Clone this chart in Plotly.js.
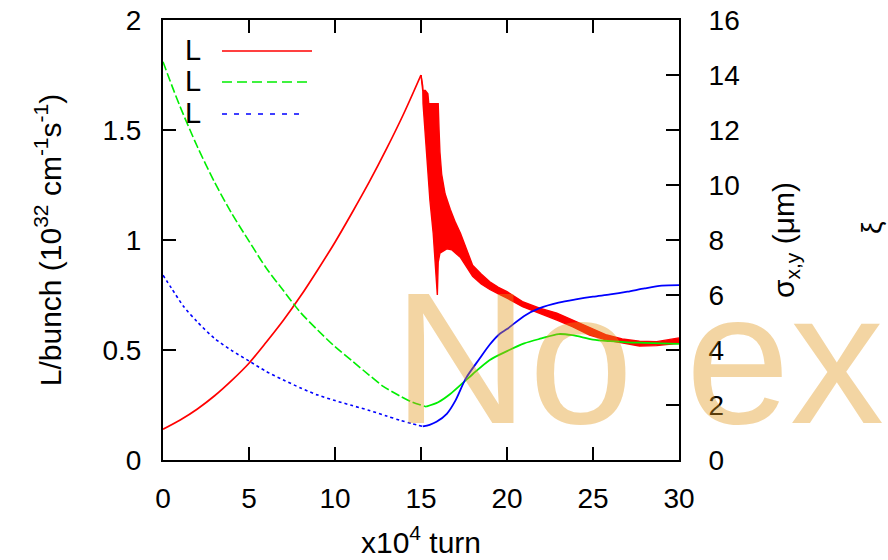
<!DOCTYPE html>
<html>
<head>
<meta charset="utf-8">
<script src="https://cdn.plot.ly/plotly-3.0.1.min.js"></script>
<style>
  html, body { margin: 0; padding: 0; background: #fff; }
  #chart { width: 888px; height: 560px; }
</style>
</head>
<body>
<div id="chart"></div>
<script>
// ---- Data ----
// x in units of 10^4 turns
const riseTurns = [0, 1, 2, 3, 4, 5, 6, 7, 8, 9, 10, 11, 12, 13, 14, 15];
const riseLum   = [0.14, 0.182, 0.232, 0.292, 0.362, 0.44, 0.535, 0.635, 0.745, 0.865, 0.99, 1.125, 1.265, 1.415, 1.575, 1.75];

// upper / lower envelope of the oscillating luminosity after the collapse
const upperTurns = [15, 15.1, 15.25, 15.4, 15.45, 16.0, 16.05, 16.1, 16.2, 16.4, 16.7, 17.0, 17.3, 17.6, 18.0, 18.5, 19.0, 19.5, 20.0, 20.9, 21.9, 22.9, 23.8, 24.8, 25.8, 26.7, 27.7, 28.7, 29.9, 30];
const upperLum   = [1.75, 1.68, 1.68, 1.665, 1.62, 1.62, 1.50, 1.40, 1.30, 1.21, 1.14, 1.08, 1.03, 0.97, 0.885, 0.845, 0.81, 0.785, 0.765, 0.72, 0.69, 0.668, 0.636, 0.60, 0.568, 0.55, 0.54, 0.538, 0.555, 0.555];
const lowerTurns = [15, 15.1, 15.12, 15.22, 15.32, 15.52, 15.71, 15.9, 15.95, 16.0, 16.1, 16.5, 16.8, 17.3, 17.6, 18.0, 18.5, 19.0, 19.5, 20.0, 20.9, 21.9, 22.9, 23.8, 24.8, 25.8, 26.7, 27.7, 28.7, 29.9, 30];
const lowerLum   = [1.75, 1.70, 1.62, 1.51, 1.36, 1.18, 1.03, 0.80, 0.75, 0.90, 0.94, 0.96, 0.955, 0.92, 0.885, 0.835, 0.80, 0.775, 0.755, 0.736, 0.697, 0.668, 0.636, 0.606, 0.568, 0.545, 0.532, 0.518, 0.52, 0.527, 0.53];

// beam sizes in micrometres (right axis)
const greenTurns = [0, 0.5, 1, 2, 3, 4, 5, 6, 7, 8, 9, 10, 11, 12, 12.8, 13.8, 14.5, 15.3, 16, 16.7, 17.5, 18, 19, 20, 21, 22, 23, 23.8, 25, 26, 27, 28, 29, 30];
const greenSigma = [14.48, 13.64, 12.84, 11.39, 10.1, 8.96, 7.96, 6.98, 6.16, 5.36, 4.72, 4.12, 3.6, 3.08, 2.68, 2.32, 2.1, 1.94, 2.1, 2.4, 2.84, 3.12, 3.64, 3.96, 4.24, 4.42, 4.58, 4.54, 4.38, 4.32, 4.28, 4.26, 4.24, 4.22];

const blueTurns = [0, 0.5, 1.2, 2, 3, 4, 5, 6, 7, 8, 9, 10, 11, 12, 13, 13.8, 14.5, 15.1, 15.5, 15.9, 16.5, 17, 17.6, 18.4, 19, 19.6, 20, 21, 21.9, 23, 24, 25, 26, 27, 28, 29, 30];
const blueSigma = [6.72, 6.24, 5.58, 5.02, 4.42, 3.98, 3.6, 3.22, 2.91, 2.62, 2.36, 2.16, 1.98, 1.8, 1.6, 1.44, 1.32, 1.22, 1.28, 1.39, 1.68, 2.16, 2.96, 3.68, 4.2, 4.6, 4.76, 5.24, 5.52, 5.72, 5.84, 5.94, 6.02, 6.12, 6.24, 6.34, 6.36];

const seriesNames = ["L", "L", "L"];
const xTicks  = [0, 5, 10, 15, 20, 25, 30];
const yTicks  = [0, 0.5, 1, 1.5, 2];
const y2Ticks = [0, 2, 4, 6, 8, 10, 12, 14, 16];
const watermarkText = "No ex";

// ---- Styles ----
const RED = "#ff0000", GREEN = "#00ee00", BLUE = "#0000ff";
const FONT = "Liberation Sans, Arial, Helvetica, sans-serif";
const greenDash = "9px,3px";
const blueDash = "3px,3px";

function splitAt(xs, ys, xSplit) {
  const a = {x: [], y: []}, b = {x: [], y: []};
  xs.forEach((v, i) => {
    if (v <= xSplit) { a.x.push(v); a.y.push(ys[i]); }
    if (v >= xSplit) { b.x.push(v); b.y.push(ys[i]); }
  });
  return [a, b];
}

const [g1, g2] = splitAt(greenTurns, greenSigma, 15.3);
const [b1, b2] = splitAt(blueTurns, blueSigma, 15.1);

const traces = [
  // red: smooth rise up to the collapse
  {x: riseTurns, y: riseLum, yaxis: "y", mode: "lines", name: seriesNames[0],
   line: {color: RED, width: 1.7, shape: "spline", smoothing: 0.8}, showlegend: false},
  // red: oscillating band (upper envelope, then lower envelope filled to it)
  {x: upperTurns, y: upperLum, yaxis: "y", mode: "lines", name: seriesNames[0],
   line: {color: RED, width: 1.4}, showlegend: false},
  {x: lowerTurns, y: lowerLum, yaxis: "y", mode: "lines", name: seriesNames[0],
   line: {color: RED, width: 1.4}, fill: "tonexty", fillcolor: RED, showlegend: false},
  // green
  {x: g1.x, y: g1.y, yaxis: "y2", mode: "lines", name: seriesNames[1],
   line: {color: GREEN, width: 1.6, dash: greenDash, shape: "spline", smoothing: 0.8}, showlegend: false},
  {x: g2.x, y: g2.y, yaxis: "y2", mode: "lines", name: seriesNames[1],
   line: {color: GREEN, width: 1.8, shape: "spline", smoothing: 0.8}, showlegend: false},
  // blue
  {x: b1.x, y: b1.y, yaxis: "y2", mode: "lines", name: seriesNames[2],
   line: {color: BLUE, width: 1.6, dash: blueDash, shape: "spline", smoothing: 0.8}, showlegend: false},
  {x: b2.x, y: b2.y, yaxis: "y2", mode: "lines", name: seriesNames[2],
   line: {color: BLUE, width: 1.8, shape: "spline", smoothing: 0.8}, showlegend: false}
];

// plot area in pixels: x 163..679, y 20..460
const L = 163, R = 679, T = 20, B = 460;
const px = v => (v - L) / (R - L);
const py = v => (B - v) / (B - T);

const legendRows = [51, 82, 114];
const legendColors = [RED, GREEN, BLUE];
const legendDashes = ["solid", "10px,5px", "5px,7px"];
const legendEnds = [312, 312, 306];

const annotations = legendRows.map((yy, i) => ({
  xref: "paper", yref: "paper", x: px(203), y: py(yy - 1), xanchor: "right", yanchor: "middle",
  text: seriesNames[i], showarrow: false, font: {family: FONT, size: 29, color: "#000"}
}));
const shapes = legendRows.map((yy, i) => ({
  type: "line", xref: "paper", yref: "paper", x0: px(222), x1: px(legendEnds[i]), y0: py(yy), y1: py(yy),
  line: {color: legendColors[i], width: 1.6, dash: legendDashes[i]}
}));

// third axis label (xi)
annotations.push({
  xref: "paper", yref: "paper", x: px(871), y: py(228), xanchor: "center", yanchor: "middle",
  text: "ξ", textangle: -90, showarrow: false, font: {family: FONT, size: 28, color: "#000"}
});
// watermark
annotations.push({
  xref: "paper", yref: "paper", x: px(391), y: py(358), xanchor: "left", yanchor: "middle",
  text: watermarkText, showarrow: false,
  font: {family: FONT, size: 188, color: "rgba(225,150,25,0.4)"}
});

const axisCommon = {
  showgrid: false, zeroline: false, showline: true, linecolor: "#000", linewidth: 2,
  ticks: "inside", ticklen: 13, tickwidth: 2, tickcolor: "#000",
  tickfont: {family: FONT, size: 28, color: "#000"}
};

const layout = {
  width: 888, height: 560,
  margin: {l: L, r: 888 - R, t: T, b: 560 - B},
  paper_bgcolor: "#fff", plot_bgcolor: "#fff",
  showlegend: false,
  xaxis: Object.assign({}, axisCommon, {
    range: [0, 30], tickvals: xTicks, mirror: "ticks", ticklabelstandoff: 12,
    title: {text: "x10<sup>4</sup> turn", font: {family: FONT, size: 30, color: "#000"}, standoff: 19}
  }),
  yaxis: Object.assign({}, axisCommon, {
    range: [0, 2], tickvals: yTicks, ticklabelstandoff: 14,
    title: {text: "L/bunch (10<sup>32</sup> cm<sup>-1</sup>s<sup>-1</sup>)", font: {family: FONT, size: 30, color: "#000"}, standoff: 32}
  }),
  yaxis2: Object.assign({}, axisCommon, {
    range: [0, 16], tickvals: y2Ticks, overlaying: "y", side: "right", ticklabelstandoff: 22,
    title: {text: "σ<sub>x,y</sub> (μm)", font: {family: FONT, size: 30, color: "#000"}, standoff: 34}
  }),
  annotations: annotations,
  shapes: shapes
};

Plotly.newPlot("chart", traces, layout, {staticPlot: true, displayModeBar: false});
</script>
</body>
</html>
